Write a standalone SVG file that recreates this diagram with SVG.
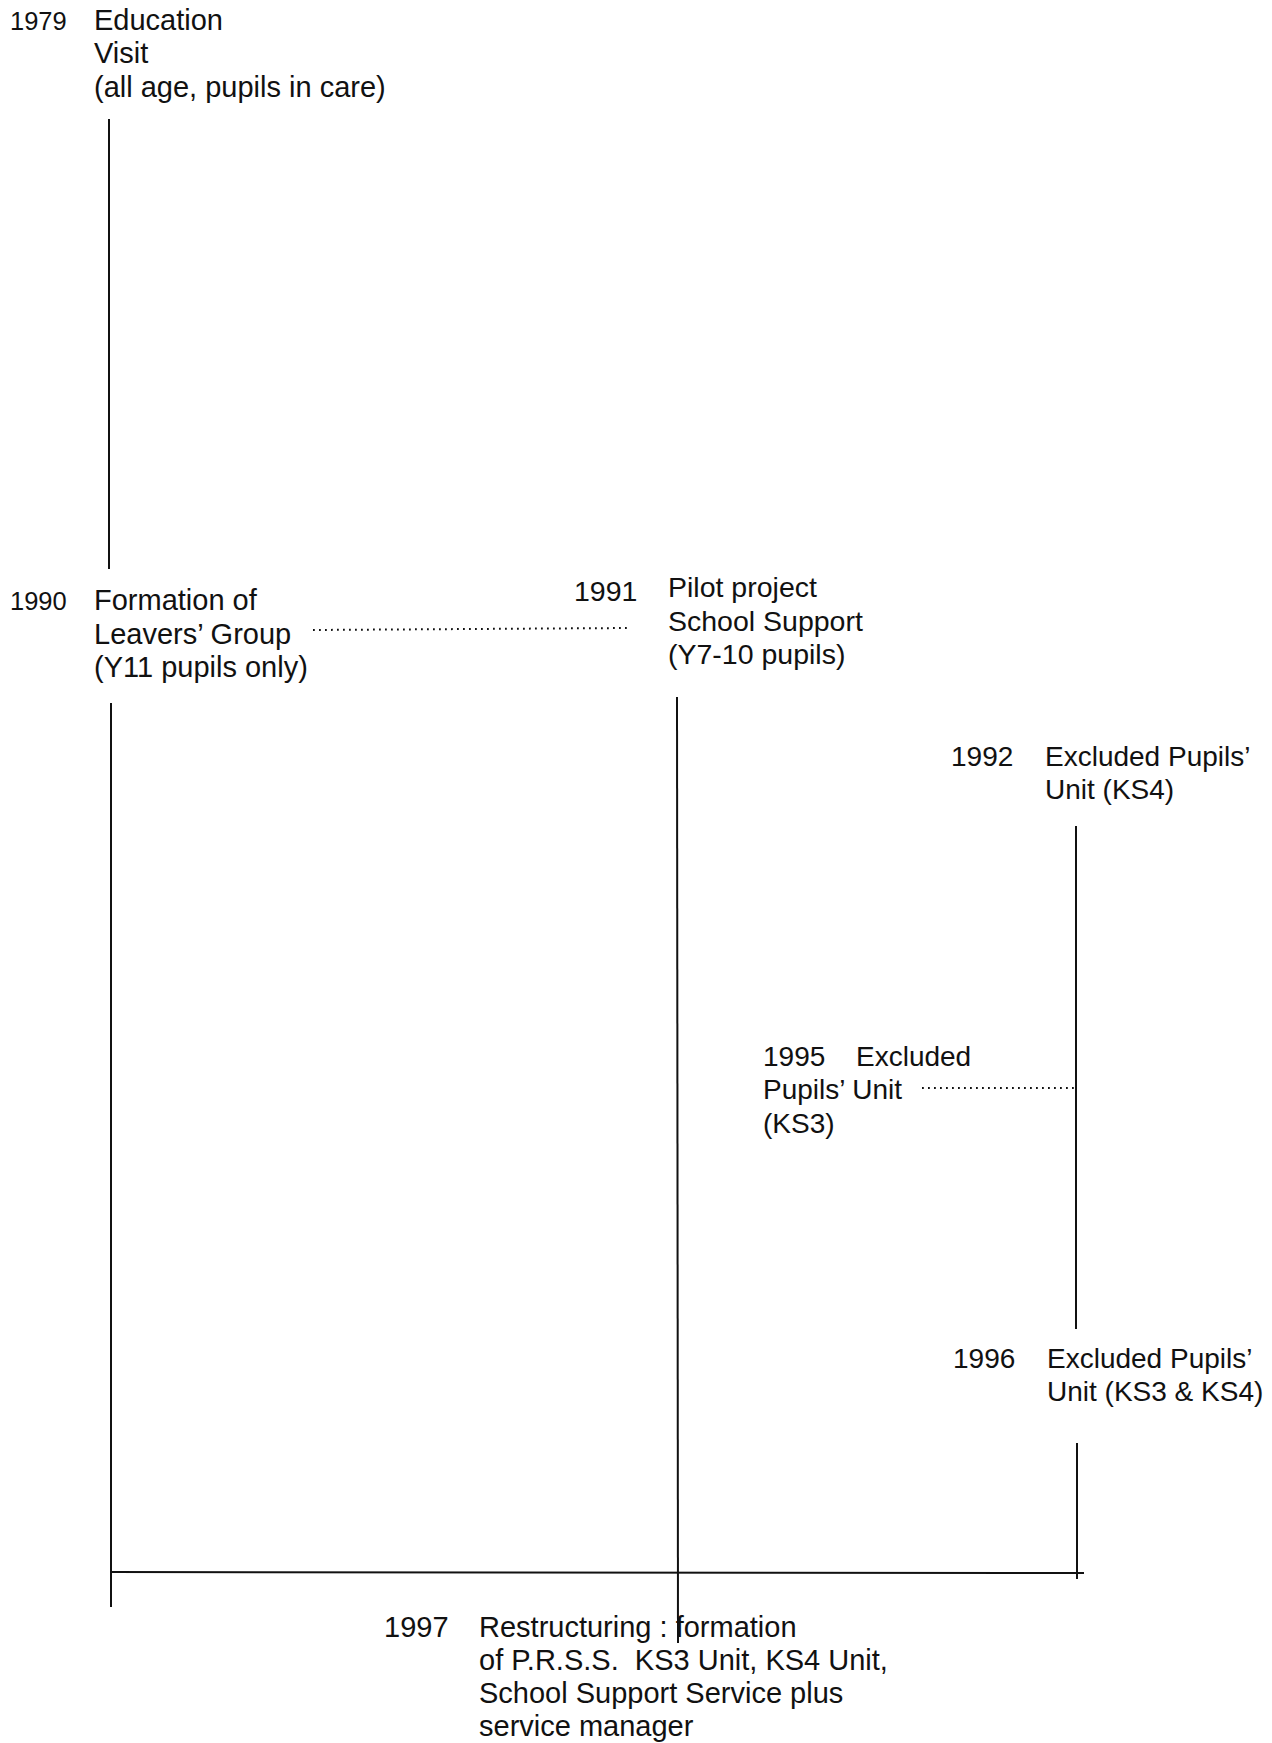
<svg xmlns="http://www.w3.org/2000/svg" width="1272" height="1743" viewBox="0 0 1272 1743">
<style>
text{font-family:"Liberation Sans",Arial,sans-serif;font-size:28px;fill:#111;white-space:pre}
.big text{font-size:29px}
.mid text{font-size:28.5px}
.big .yr{font-size:25.5px}
.ln{stroke:#111;stroke-width:2;fill:none}
.dot{stroke:#111;stroke-width:2;fill:none;stroke-dasharray:1.8 4.2}
</style>
<rect width="1272" height="1743" fill="#fff"/>
<g id="n1979" class="big">
<text x="10" y="30" class="yr">1979</text>
<text x="94" y="30">Education</text>
<text x="94" y="63">Visit</text>
<text x="94" y="97">(all age, pupils in care)</text>
</g>
<g id="n1990" class="big">
<text x="10" y="610" class="yr">1990</text>
<text x="94" y="610">Formation of</text>
<text x="94" y="644">Leavers’ Group</text>
<text x="94" y="677">(Y11 pupils only)</text>
</g>
<g id="n1991" class="mid">
<text x="574" y="601">1991</text>
<text x="668" y="597">Pilot project</text>
<text x="668" y="631">School Support</text>
<text x="668" y="664">(Y7-10 pupils)</text>
</g>
<g id="n1992">
<text x="951" y="766">1992</text>
<text x="1045" y="766">Excluded Pupils’</text>
<text x="1045" y="799">Unit (KS4)</text>
</g>
<g id="n1995">
<text x="763" y="1066">1995</text>
<text x="856" y="1066">Excluded</text>
<text x="763" y="1099">Pupils’ Unit</text>
<text x="763" y="1133">(KS3)</text>
</g>
<g id="n1996">
<text x="953" y="1368">1996</text>
<text x="1047" y="1368">Excluded Pupils’</text>
<text x="1047" y="1401">Unit (KS3 &amp; KS4)</text>
</g>
<g id="n1997" class="big">
<text x="384" y="1637">1997</text>
<text x="479" y="1637">Restructuring : formation</text>
<text x="479" y="1670" xml:space="preserve">of P.R.S.S.  KS3 Unit, KS4 Unit,</text>
<text x="479" y="1703">School Support Service plus</text>
<text x="479" y="1736">service manager</text>
</g>
<g id="connectors">
<line class="ln" x1="109" y1="119" x2="109" y2="569"/>
<line class="ln" x1="111" y1="703" x2="111" y2="1607"/>
<line class="ln" x1="677" y1="697" x2="678" y2="1643"/>
<line class="ln" x1="1076" y1="826" x2="1076" y2="1329"/>
<line class="ln" x1="1077" y1="1443" x2="1077" y2="1579"/>
<line class="ln" x1="111" y1="1572" x2="1084" y2="1573"/>
<line class="dot" x1="313" y1="630" x2="629" y2="628"/>
<line class="dot" x1="922" y1="1088" x2="1074" y2="1088"/>
</g>
</svg>
